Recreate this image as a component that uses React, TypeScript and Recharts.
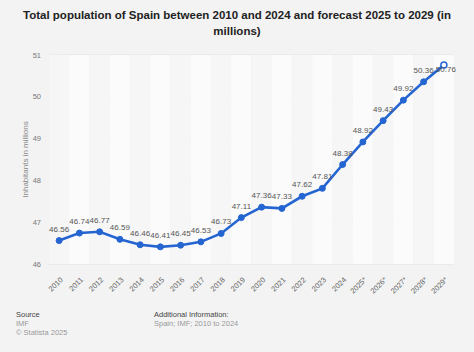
import React from "react";
import { ComposedChart, Line, Bar, Cell, XAxis, YAxis, CartesianGrid, LabelList } from "recharts";

const years = ["2010","2011","2012","2013","2014","2015","2016","2017","2018","2019","2020","2021","2022","2023","2024","2025*","2026*","2027*","2028*","2029*"];
const population = [46.56,46.74,46.77,46.59,46.46,46.41,46.45,46.53,46.73,47.11,47.36,47.33,47.62,47.81,48.38,48.92,49.43,49.92,50.36,50.76];
const yTicks = [46,47,48,49,50,51];
const bandTop = 51;

const data = years.map((y, i) => ({ year: y, value: population[i], band: bandTop }));

const FONT = '"Liberation Sans", Arial, Helvetica, sans-serif';
const BLUE = "#2565d1";

const XTick = (props: any) => {
  const { x, y, payload } = props;
  return (
    <g transform={`translate(${x},${y + 4})`}>
      <text x={0} y={0} dy={6} textAnchor="end" transform="rotate(-45)" fontSize={7.5} fill="#666" fontFamily={FONT}>
        {payload.value}
      </text>
    </g>
  );
};

const Dot = (props: any) => {
  const { cx, cy, index } = props;
  if (cx == null || cy == null) return <g />;
  const last = index === years.length - 1;
  return <circle cx={cx} cy={cy} r={3} fill={last ? "#ffffff" : BLUE} stroke={BLUE} strokeWidth={last ? 1.5 : 1} />;
};

const ValueLabel = (props: any) => {
  const { x, y, width, value, index } = props;
  if (x == null || y == null) return null;
  const cx = x + (width || 0) / 2;
  const last = index === years.length - 1;
  return (
    <text
      x={last ? cx + 2 : cx}
      y={last ? y + 7 : y - 9}
      textAnchor="middle"
      fontSize={8}
      fill="#555"
      fontFamily={FONT}
    >
      {Number(value).toFixed(2)}
    </text>
  );
};

export default function App() {
  return (
    <div style={{ position: "absolute", left: 0, top: 0, width: 474, height: 352, background: "#f3f3f3", fontFamily: FONT, overflow: "hidden" }}>
      <div style={{ position: "absolute", left: 0, top: 7, width: 474, textAlign: "center", fontWeight: "bold", fontSize: 11.5, lineHeight: "16px", color: "#222" }}>
        Total population of Spain between 2010 and 2024 and forecast 2025 to 2029 (in<br />millions)
      </div>
      <div style={{ position: "absolute", left: 0, top: 0 }}>
        <ComposedChart width={474} height={352} data={data} margin={{ top: 55, right: 20, bottom: 48, left: 0 }} barCategoryGap={0} barGap={0}>
          <CartesianGrid vertical={false} stroke="#e2e2e2" />
          <XAxis dataKey="year" tick={<XTick />} tickLine={false} axisLine={false} interval={0} height={40} />
          <YAxis
            domain={[46, 51]}
            ticks={yTicks}
            width={49}
            tickLine={false}
            axisLine={false}
            tick={{ fontSize: 7.5, fill: "#777", fontFamily: FONT }}
            label={{ value: "Inhabitants in millions", angle: -90, position: "insideLeft", offset: 25, style: { fontSize: 8, fill: "#888", fontFamily: FONT, textAnchor: "middle" } }}
          />
          <Bar dataKey="band" isAnimationActive={false}>
            {data.map((d, i) => (
              <Cell key={d.year} fill={i % 2 === 1 ? "#fbfbfb" : "#f6f6f6"} />
            ))}
          </Bar>
          <Line
            dataKey="value"
            stroke={BLUE}
            strokeWidth={2.6}
            dot={<Dot />}
            activeDot={false}
            isAnimationActive={false}
          />
          <Line
            dataKey="value"
            stroke="none"
            dot={false}
            activeDot={false}
            isAnimationActive={false}
          >
            <LabelList dataKey="value" content={<ValueLabel />} />
          </Line>
        </ComposedChart>
      </div>
      <div style={{ position: "absolute", left: 16, top: 310, fontSize: 7.5, lineHeight: "9px", color: "#999" }}>
        <div style={{ color: "#444" }}>Source</div>
        <div>IMF</div>
        <div>© Statista 2025</div>
      </div>
      <div style={{ position: "absolute", left: 154, top: 310, fontSize: 7.5, lineHeight: "9px", color: "#999" }}>
        <div style={{ color: "#444" }}>Additional Information:</div>
        <div>Spain; IMF; 2010 to 2024</div>
      </div>
    </div>
  );
}
